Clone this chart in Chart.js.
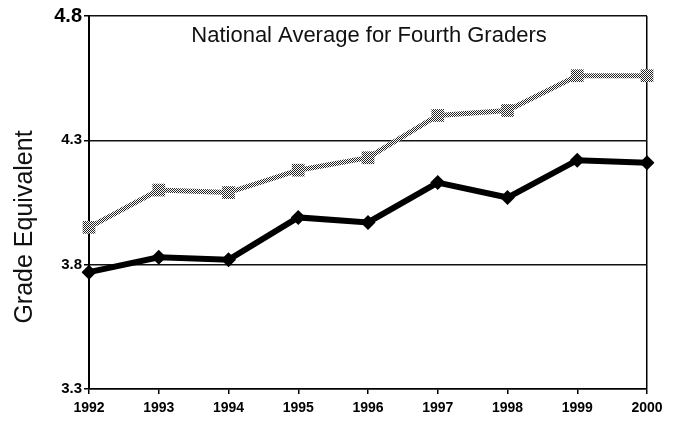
<!DOCTYPE html>
<html>
<head>
<meta charset="utf-8">
<script src="https://cdn.jsdelivr.net/npm/chart.js@4"></script>
<style>
  html, body { margin: 0; padding: 0; background: #fff; }
  #wrap { width: 673px; height: 421px; }
</style>
</head>
<body>
<div id="wrap"><canvas id="c" width="673" height="421"></canvas></div>
<script>
// --- data ---
const years = ['1992', '1993', '1994', '1995', '1996', '1997', '1998', '1999', '2000'];
const upperSeries = [3.95, 4.10, 4.09, 4.18, 4.23, 4.40, 4.42, 4.56, 4.56];
const lowerSeries = [3.77, 3.83, 3.82, 3.99, 3.97, 4.13, 4.07, 4.22, 4.21];
const yTicks = [3.3, 3.8, 4.3, 4.8];
const chartTitle = 'National Average for Fourth Graders';
const yTitle = 'Grade Equivalent';

const canvas = document.getElementById('c');
const ctx = canvas.getContext('2d');

// dithered grey like the scanned original
const pc = document.createElement('canvas');
pc.width = 2; pc.height = 2;
const pctx = pc.getContext('2d');
pctx.fillStyle = '#fff'; pctx.fillRect(0, 0, 2, 2);
pctx.fillStyle = '#222'; pctx.fillRect(0, 0, 1, 1); pctx.fillRect(1, 1, 1, 1);
const dither = ctx.createPattern(pc, 'repeat');

// title inside the plot + rotated axis title
const textPlugin = {
  id: 'texts',
  afterDraw(chart) {
    const { ctx, chartArea } = chart;
    ctx.save();
    ctx.fillStyle = '#111';
    ctx.font = '22px "Liberation Sans", Arial, sans-serif';
    ctx.textAlign = 'center';
    ctx.textBaseline = 'middle';
    ctx.fillText(chartTitle, (chartArea.left + chartArea.right) / 2 + 1, chartArea.top + 20);

    ctx.translate(25, 227);
    ctx.rotate(-Math.PI / 2);
    ctx.font = '25px "Liberation Sans", Arial, sans-serif';
    ctx.fillText(yTitle, 0, 0);
    ctx.restore();
  }
};

new Chart(canvas, {
  type: 'line',
  data: {
    labels: years,
    datasets: [
      {
        label: 'upper',
        data: upperSeries,
        borderColor: dither,
        backgroundColor: dither,
        borderWidth: 5,
        tension: 0,
        pointStyle: 'rect',
        pointRadius: 9,
        pointBorderWidth: 0,
        pointBackgroundColor: dither
      },
      {
        label: 'lower',
        data: lowerSeries,
        borderColor: '#000',
        backgroundColor: '#000',
        borderWidth: 6,
        tension: 0,
        pointStyle: 'rectRot',
        pointRadius: 7.5,
        pointBorderWidth: 0,
        pointBackgroundColor: '#000'
      }
    ]
  },
  options: {
    responsive: false,
    animation: false,
    layout: { padding: { top: 16, right: 26, left: 0, bottom: 0 } },
    plugins: {
      legend: { display: false },
      tooltip: { enabled: false }
    },
    scales: {
      x: {
        offset: false,
        afterFit: s => { s.height = 32; },
        border: { color: '#000', width: 1.5 },
        grid: {
          color: c => c.index === years.length - 1 ? '#000' : 'rgba(0,0,0,0)',
          lineWidth: 1.5,
          tickColor: '#000',
          tickLength: 5
        },
        ticks: {
          color: '#000',
          padding: 6,
          maxRotation: 0,
          autoSkip: false,
          font: { family: '"Liberation Sans", Arial, sans-serif', size: 14, weight: 'bold' }
        }
      },
      y: {
        min: 3.3,
        max: 4.8,
        afterBuildTicks: axis => { axis.ticks = yTicks.map(v => ({ value: v })); },
        afterFit: s => { s.width = 89; },
        border: { color: '#000', width: 2 },
        grid: { color: '#111', lineWidth: 1.5, tickColor: '#000', tickLength: 5 },
        ticks: {
          color: '#000',
          padding: 2,
          callback: v => v.toFixed(1),
          font: c => c.tick && c.tick.value === 4.8
            ? { family: '"Liberation Sans", Arial, sans-serif', size: 20, weight: 'bold' }
            : { family: '"Liberation Sans", Arial, sans-serif', size: 15, weight: 'bold' }
        }
      }
    }
  },
  plugins: [textPlugin]
});
</script>
</body>
</html>
